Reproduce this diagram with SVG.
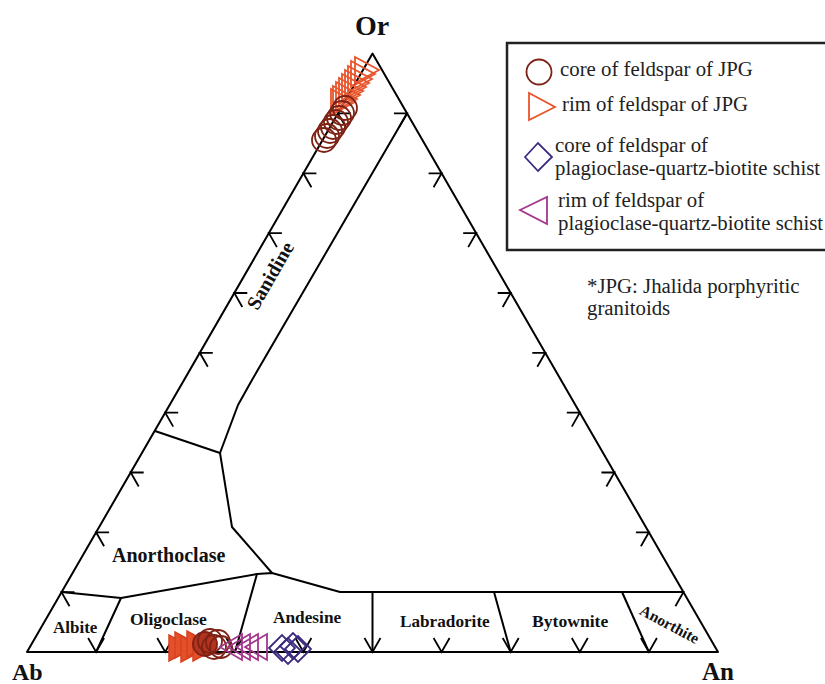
<svg xmlns="http://www.w3.org/2000/svg" width="825" height="684" viewBox="0 0 825 684">
<style>
.ln{fill:none;stroke:#000;stroke-width:2;stroke-linejoin:round}
.tk{fill:none;stroke:#000;stroke-width:1.8}
.lab{font-family:"Liberation Serif","Times New Roman",serif;font-weight:bold;fill:#111}
.leg{font-family:"Liberation Serif","Times New Roman",serif;font-size:20.8px;fill:#222}
.cir{fill:none;stroke:#7e2216;stroke-width:1.8}
.rt{fill:none;stroke:#e8552c;stroke-width:1.8}
.rtf{fill:#e4502a;stroke:#d8421f;stroke-width:1.5}
.dia{fill:none;stroke:#3d2b80;stroke-width:1.8}
.lt{fill:none;stroke:#a4378c;stroke-width:1.8}
</style>
<defs>
<path id="tkL" d="M13,0 L0,0 L8,14"/>
<path id="tkR" d="M-13,0 L0,0 L-8,14"/>
<path id="tkB" d="M-8,-14 L0,0 L8,-14"/>
<polygon id="triR" points="-11,-13 -11,13 13,0"/>
<polygon id="triL" points="-11,0 11,-13 11,13"/>
<polygon id="dmd" points="-13,0 0,-13 13,0 0,13"/>
</defs>
<rect width="825" height="684" fill="#fff"/>

<g id="frame">
<polygon class="ln" points="27,652 718,652 372.5,53.6"/>
</g>

<g id="connectors">
<polyline class="ln" points="61.5,592 121,598 96.1,652"/>
<polyline class="ln" points="121,598 257,574 272,573 340,592 683.4,592"/>
<line class="ln" x1="257" y1="574" x2="235" y2="652"/>
<polyline class="ln" points="272,573 232,527 220,453 238,405 252,380 407,113.4"/>
<line class="ln" x1="220" y1="453" x2="155" y2="431"/>
<line class="ln" x1="372.5" y1="592" x2="372.5" y2="652"/>
<line class="ln" x1="494" y1="592" x2="510.7" y2="652"/>
<line class="ln" x1="622" y1="592" x2="648.9" y2="652"/>
</g>

<g id="ticks" class="tk">
<use href="#tkL" x="61.5" y="592.2"/>
<use href="#tkL" x="96.1" y="532.3"/>
<use href="#tkL" x="130.7" y="472.5"/>
<use href="#tkL" x="165.2" y="412.6"/>
<use href="#tkL" x="199.8" y="352.8"/>
<use href="#tkL" x="234.3" y="293"/>
<use href="#tkL" x="268.9" y="233.1"/>
<use href="#tkL" x="303.4" y="173.3"/>
<use href="#tkL" x="338" y="113.4"/>
<use href="#tkR" x="683.4" y="592.2"/>
<use href="#tkR" x="648.9" y="532.3"/>
<use href="#tkR" x="614.4" y="472.5"/>
<use href="#tkR" x="579.8" y="412.6"/>
<use href="#tkR" x="545.3" y="352.8"/>
<use href="#tkR" x="510.7" y="293"/>
<use href="#tkR" x="476.2" y="233.1"/>
<use href="#tkR" x="441.6" y="173.3"/>
<use href="#tkR" x="407" y="113.4"/>
<use href="#tkB" x="96.1" y="652"/>
<use href="#tkB" x="165.2" y="652"/>
<use href="#tkB" x="234.3" y="652"/>
<use href="#tkB" x="303.4" y="652"/>
<use href="#tkB" x="372.5" y="652"/>
<use href="#tkB" x="441.6" y="652"/>
<use href="#tkB" x="510.7" y="652"/>
<use href="#tkB" x="579.8" y="652"/>
<use href="#tkB" x="648.9" y="652"/>
</g>

<g id="apex-labels">
<text class="lab" x="372" y="35" font-size="28" text-anchor="middle">Or</text>
<text class="lab" x="12" y="680" font-size="24">Ab</text>
<text class="lab" x="702" y="680" font-size="25">An</text>
</g>

<g id="field-labels">
<text class="lab" font-size="20" text-anchor="middle" transform="translate(276,279) rotate(-60)">Sanidine</text>
<text class="lab" x="112" y="562" font-size="20">Anorthoclase</text>
<text class="lab" x="53" y="633" font-size="17">Albite</text>
<text class="lab" x="130" y="625" font-size="17.5">Oligoclase</text>
<text class="lab" x="273" y="623" font-size="17.3">Andesine</text>
<text class="lab" x="400" y="627" font-size="17.2">Labradorite</text>
<text class="lab" x="532" y="627" font-size="17.6">Bytownite</text>
<text class="lab" font-size="15.5" text-anchor="middle" transform="translate(667,629) rotate(28)">Anorthite</text>
</g>

<g id="data-apex">
<use href="#triR" class="rt" x="366" y="70"/>
<use href="#triR" class="rt" x="362" y="74"/>
<use href="#triR" class="rt" x="359" y="79"/>
<use href="#triR" class="rt" x="356" y="83"/>
<use href="#triR" class="rt" x="353" y="87"/>
<use href="#triR" class="rt" x="350" y="91"/>
<use href="#triR" class="rt" x="347" y="95"/>
<use href="#triR" class="rt" x="344" y="99"/>
<use href="#triR" class="rt" x="342" y="102"/>
<circle class="cir" cx="324" cy="140" r="12"/>
<circle class="cir" cx="327" cy="136" r="12"/>
<circle class="cir" cx="330" cy="131" r="12"/>
<circle class="cir" cx="333" cy="127" r="12"/>
<circle class="cir" cx="336" cy="122" r="12"/>
<circle class="cir" cx="339" cy="118" r="12"/>
<circle class="cir" cx="342" cy="113" r="12"/>
<circle class="cir" cx="345" cy="108" r="12"/>
</g>

<g id="data-base">
<use href="#triR" class="rtf" x="180" y="648"/>
<use href="#triR" class="rtf" x="186" y="645"/>
<use href="#triR" class="rtf" x="192" y="649"/>
<use href="#triR" class="rtf" x="198" y="644"/>
<use href="#triR" class="rtf" x="204" y="648"/>
<circle cx="205" cy="644" r="12" fill="#b2341f" stroke="#7e2216" stroke-width="1.8"/>
<circle class="cir" cx="210" cy="641" r="12"/>
<circle class="cir" cx="214" cy="647" r="12"/>
<circle class="cir" cx="218" cy="642" r="12"/>
<circle class="cir" cx="221" cy="647" r="11"/>
<use href="#triL" class="lt" x="231" y="647"/>
<use href="#triL" class="lt" x="239" y="647"/>
<use href="#triL" class="lt" x="247" y="647"/>
<use href="#triL" class="lt" x="256" y="647"/>
<use href="#dmd" class="dia" x="282" y="648"/>
<use href="#dmd" class="dia" x="288" y="651"/>
<use href="#dmd" class="dia" x="293" y="646"/>
<use href="#dmd" class="dia" x="298" y="649"/>
</g>

<g id="legend">
<rect x="507" y="43" width="322" height="207" fill="none" stroke="#222" stroke-width="2.5"/>
<circle class="cir" cx="539" cy="72" r="12.5"/>
<text class="leg" x="560" y="76">core of feldspar of JPG</text>
<polygon class="rt" points="529,93 529,120 555,107"/>
<text class="leg" x="562" y="111">rim of feldspar of JPG</text>
<polygon class="dia" points="525,157 538,143 552,157 538,171"/>
<text class="leg" x="555" y="152">core of feldspar of</text>
<text class="leg" x="555" y="175">plagioclase-quartz-biotite schist</text>
<polygon class="lt" points="520,210 547,197 547,224"/>
<text class="leg" x="558" y="207">rim of feldspar of</text>
<text class="leg" x="558" y="230">plagioclase-quartz-biotite schist</text>
</g>

<g id="note">
<text class="leg" x="587" y="293" font-size="18.5">*JPG: Jhalida porphyritic</text>
<text class="leg" x="587" y="315" font-size="18.5">granitoids</text>
</g>
</svg>
